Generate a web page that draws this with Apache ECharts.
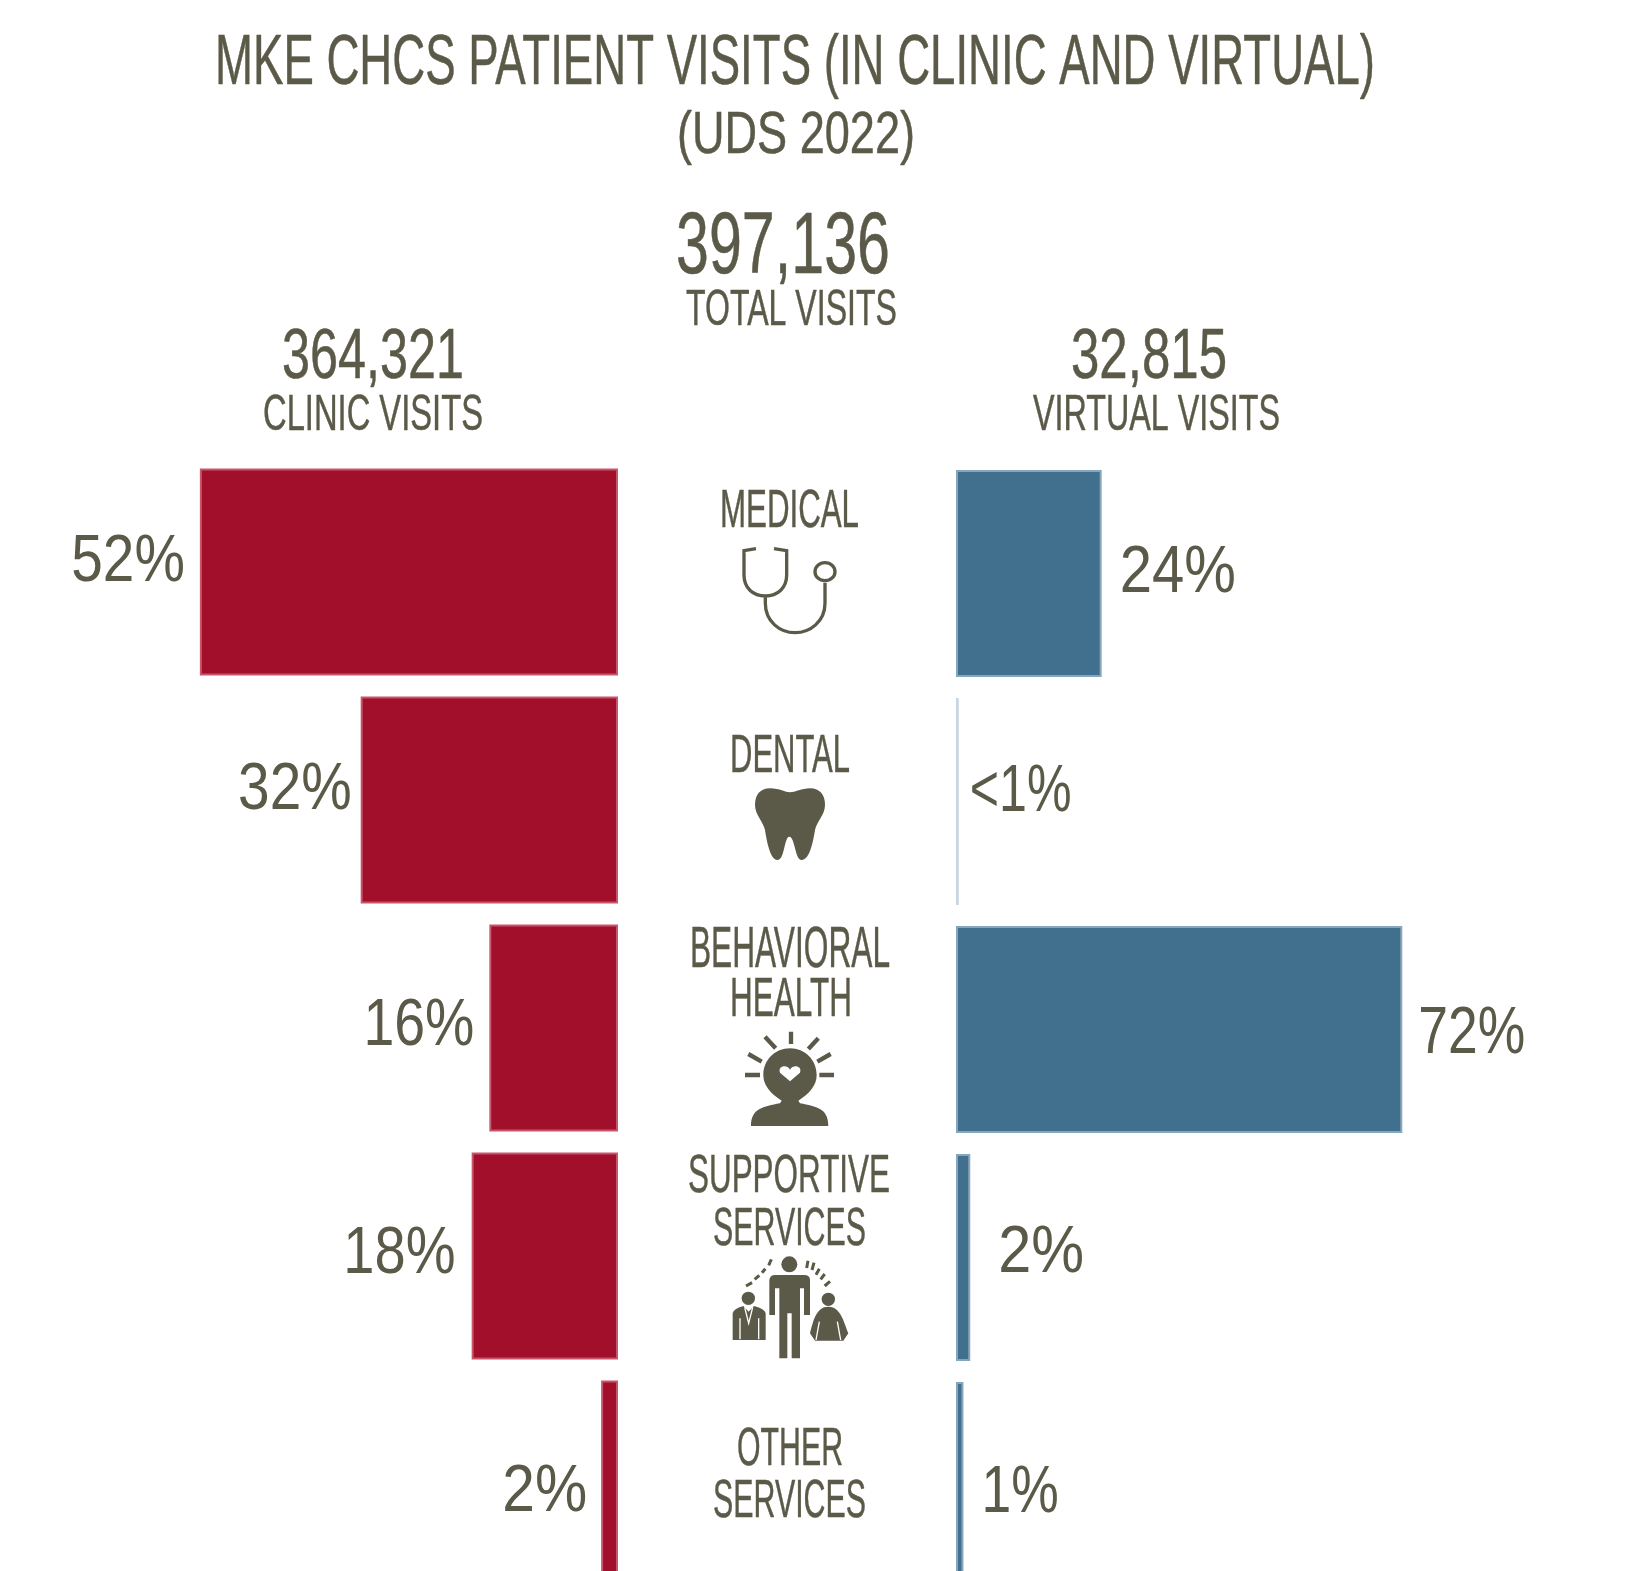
<!DOCTYPE html>
<html><head><meta charset="utf-8">
<style>html,body{margin:0;padding:0;background:#fff}#c{width:1629px;height:1571px}</style>
<script src="https://cdn.jsdelivr.net/npm/echarts@6/dist/echarts.min.js"></script>
</head><body><div id="c"></div>
<script>
const categories = ['MEDICAL', 'DENTAL', 'BEHAVIORAL HEALTH', 'SUPPORTIVE SERVICES', 'OTHER SERVICES'];
const clinicValues = [52, 32, 16, 18.2, 2.1];
const virtualValues = [23.5, 0.45, 72, 2.3, 1.2];
const clinicLabels = ['52%', '32%', '16%', '18%', '2%'];
const virtualLabels = ['24%', '<1%', '72%', '2%', '1%'];
const titleLine = 'MKE CHCS PATIENT VISITS (IN CLINIC AND VIRTUAL)';
const subtitleLine = '(UDS 2022)';
const totalVisits = '397,136';
const clinicVisits = '364,321';
const virtualVisits = '32,815';

const INK = '#5b5947', RED = '#a20f2b', BLUE = '#41708f', FONT = '"Liberation Sans",sans-serif';
const clinicDy = [-9, -9, -1, -1, 9], virtualDy = [0, -9, 5, -4, 8];
const clinicGap = [15, 9, 15, 16, 14], virtualGap = [18, 11, 16, 28, 18];
const clinicSquish = [0.86, 0.86, 0.84, 0.85, 0.89], virtualSquish = [0.88, 0.76, 0.81, 0.90, 0.81];

const ctx = document.createElement('canvas').getContext('2d');
// text fitted to a cap height and a width, squeezed horizontally like the condensed original
function fit(text, left, right, top, bottom) {
  const fontSize = (bottom - top) / 0.688;
  ctx.font = fontSize + 'px ' + FONT;
  const w = ctx.measureText(text).width;
  return { type: 'text', x: (left + right) / 2, y: (top + bottom) / 2 + fontSize * 0.07, scaleX: (right - left) / w, silent: true,
    style: { text, fontFamily: FONT, fontSize, fill: INK, stroke: INK, lineWidth: 0.5, align: 'center', verticalAlign: 'middle' } };
}
function icon(ox, oy, pathData, style) {
  return { type: 'path', x: ox, y: oy, scaleX: 1/3, scaleY: 1/3, silent: true,
    shape: { pathData }, style: style || { fill: INK } };
}
const line = (w, color) => ({ fill: 'none', stroke: color || INK, lineWidth: w });

const dashes = 'M258 1128L276 1118M284 1108L298 1096M306 1088L316 1076M326 1066L334 1048M444 1052L440 1074M462 1058L456 1080M478 1076L468 1094M494 1092L482 1108M510 1114L494 1128';

const textEls = [
  fit(titleLine, 215, 1375, 36, 84),
  fit(subtitleLine, 677, 915, 112, 153),
  fit(totalVisits, 676, 890, 213, 273),
  fit('TOTAL VISITS', 686, 897, 290, 325),
  fit(clinicVisits, 282, 464, 330, 378),
  fit('CLINIC VISITS', 263, 483, 395, 430),
  fit(virtualVisits, 1071, 1227, 330, 378),
  fit('VIRTUAL VISITS', 1033, 1280, 395, 430),
  fit('MEDICAL', 720, 859, 490, 527),
  fit('DENTAL', 730, 850, 735, 772),
  fit('BEHAVIORAL', 690, 890, 928, 967),
  fit('HEALTH', 730, 852, 978, 1016),
  fit('SUPPORTIVE', 688, 890, 1155, 1192),
  fit('SERVICES', 713, 866, 1208, 1245),
  fit('OTHER', 737, 843, 1428, 1465),
  fit('SERVICES', 713, 866, 1480, 1517)
];
const iconEls = [
  // stethoscope
  icon(660, 460, 'M288 266L252 272L252 345C252 385 280 408 316 408C352 408 380 385 380 345L380 272L342 266M316 408L316 430C316 485 360 518 405 518C450 518 495 485 495 430L495 368', line(10)),
  icon(660, 460, 'M465 335A30 27 0 1 0 525 335A30 27 0 1 0 465 335Z', line(10)),
  // tooth
  icon(660, 460, 'M330 985C360 985 375 997 390 997C405 997 425 985 450 985C480 985 495 1005 495 1035C495 1065 470 1085 465 1110C460 1140 450 1200 425 1200C405 1200 405 1130 388 1130C372 1130 375 1200 352 1200C330 1200 320 1140 315 1110C310 1085 285 1065 285 1035C285 1005 300 985 330 985Z'),
  // head with heart
  icon(660, 910, 'M365 572C330 550 310 525 310 495C310 450 345 415 390 415C435 415 470 450 470 495C470 525 450 550 415 572L420 580C470 590 505 595 505 648L273 648C273 595 310 590 360 580Z'),
  icon(660, 910, 'M390 514L360 488C352 465 385 463 390 480C395 463 428 465 420 488Z', { fill: '#fff' }),
  icon(660, 910, 'M255 495L300 495M478 495L522 495M265 432L305 455M512 432L472 455M315 380L347 415M475 385L445 417M393 365L393 402', line(13)),
  // three people
  icon(660, 910, 'M364 1063A24 24 0 1 0 412 1063A24 24 0 1 0 364 1063Z'),
  icon(660, 910, 'M328 1110Q330 1095 345 1095L432 1095Q450 1095 450 1110L450 1215L432 1215L432 1135L420 1135L420 1345L395 1345L395 1210L382 1210L382 1345L358 1345L358 1135L345 1135L345 1215L328 1215Z'),
  icon(660, 910, 'M245 1165A20 20 0 1 0 285 1165A20 20 0 1 0 245 1165Z'),
  icon(660, 910, 'M218 1290L218 1210Q220 1197 250 1188L266 1205L282 1188Q315 1197 317 1210L317 1290Z'),
  icon(660, 910, 'M240 1225L240 1288M296 1225L296 1288M254 1192L266 1240L278 1192', line(4, '#fff')),
  icon(660, 910, 'M485 1168A20 20 0 1 0 525 1168A20 20 0 1 0 485 1168Z'),
  icon(660, 910, 'M465 1292L450 1270C460 1230 470 1190 505 1190C540 1190 550 1230 565 1270L550 1292Z'),
  icon(660, 910, 'M478 1235L468 1290M532 1235L542 1290', line(4, '#fff')),
  icon(660, 910, dashes, line(9))
];

function bars(values, color, edge, index) {
  return {
    type: 'bar', xAxisIndex: index, yAxisIndex: index, barWidth: 207, silent: true,
    data: values.map((value, i) => {
      const pale = color === BLUE && i === 1;
      return { value, itemStyle: { color: pale ? '#c9d6e2' : color, borderColor: pale ? '#c9d6e2' : edge, borderWidth: 2 } };
    })
  };
}
// value labels sit at each bar's end, placed through the axes and squeezed like the condensed original
function labels(values, texts, dy, gap, squish, index, sign) {
  return {
    type: 'custom', xAxisIndex: index, yAxisIndex: index, silent: true, z: 5,
    encode: { x: 0, y: 1 },
    data: values.map((value, i) => [value, i]),
    renderItem(params, api) {
      const i = api.value(1);
      const p = api.coord([api.value(0), i]);
      return { type: 'text', x: p[0] + sign * gap[i], y: p[1] + dy[i], scaleX: squish[i], silent: true,
        style: { text: texts[i], fontFamily: FONT, fontSize: 66, fill: INK,
          align: sign < 0 ? 'right' : 'left', verticalAlign: 'middle' } };
    }
  };
}

const chart = echarts.init(document.getElementById('c'), null, { renderer: 'canvas' });
const bandPitch = 228;
const axisOff = { show: false };
chart.setOption({
  animation: false,
  backgroundColor: '#fff',
  grid: [
    { left: 150, width: 468, top: 458, height: bandPitch * categories.length, outerBoundsMode: 'none' },
    { left: 956, width: 600, top: 459.5, height: bandPitch * categories.length, outerBoundsMode: 'none' }
  ],
  xAxis: [
    { type: 'value', gridIndex: 0, min: 0, max: 58.2, inverse: true, ...axisOff },
    { type: 'value', gridIndex: 1, min: 0, max: 96.8, ...axisOff }
  ],
  yAxis: [
    { type: 'category', gridIndex: 0, inverse: true, data: categories, ...axisOff },
    { type: 'category', gridIndex: 1, inverse: true, data: categories, ...axisOff }
  ],
  series: [
    bars(clinicValues, RED, '#c6566c', 0),
    bars(virtualValues, BLUE, '#86a6bc', 1),
    labels(clinicValues, clinicLabels, clinicDy, clinicGap, clinicSquish, 0, -1),
    labels(virtualValues, virtualLabels, virtualDy, virtualGap, virtualSquish, 1, 1),
    { type: 'custom', coordinateSystem: 'none', silent: true, data: [0],
      renderItem: () => ({ type: 'group', children: iconEls }) }
  ],
  graphic: { elements: textEls }
});
</script></body></html>
